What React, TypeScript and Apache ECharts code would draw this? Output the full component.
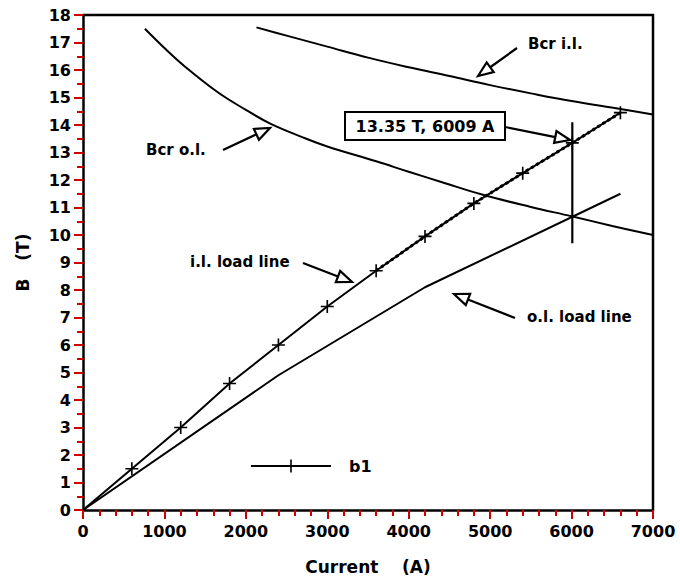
import React, { useEffect, useRef } from "react";
import * as echarts from "echarts";

// Inner-layer (i.l.) load line, with "+" markers
const ilCurrent = [0, 600, 1200, 1800, 2400, 3000, 3600, 4200, 4800, 5400, 6009, 6600];
const ilB = [0, 1.5, 3.0, 4.6, 6.0, 7.4, 8.7, 9.95, 11.15, 12.25, 13.35, 14.45];

// Outer-layer (o.l.) load line
const olCurrent = [0, 2400, 4200, 6600];
const olB = [0, 4.9, 8.1, 11.5];

// Critical field, outer layer
const bcrOlCurrent = [760, 1000, 1250, 1660, 2000, 2300, 2700, 3000, 3600, 4000, 4400, 4900, 5500, 6000, 6500, 7000];
const bcrOlB = [17.5, 16.8, 16.13, 15.18, 14.55, 14.05, 13.55, 13.22, 12.68, 12.3, 11.93, 11.47, 11.02, 10.68, 10.33, 10.0];

// Critical field, inner layer
const bcrIlCurrent = [2130, 2500, 3000, 3500, 4000, 4500, 5000, 5500, 6000, 6600, 7000];
const bcrIlB = [17.55, 17.25, 16.85, 16.45, 16.1, 15.78, 15.45, 15.15, 14.87, 14.58, 14.38];

// Operating point cross (vertical bar)
const opCurrent = [6009, 6009];
const opB = [9.7, 14.1];

const xTicks = [0, 1000, 2000, 3000, 4000, 5000, 6000, 7000];
const yTicks = [0, 1, 2, 3, 4, 5, 6, 7, 8, 9, 10, 11, 12, 13, 14, 15, 16, 17, 18];
const xMinorSplit = 5;
const yMinorSplit = 2;

const FONT = "'DejaVu Sans', Verdana, sans-serif";
const TICK_COLOR = "#d00000";
const PLUS =
  "path://M-1,-8 L1,-8 L1,-1 L8,-1 L8,1 L1,1 L1,8 L-1,8 L-1,1 L-8,1 L-8,-1 L-1,-1 Z";

function zip(xs: number[], ys: number[]) {
  return xs.map((x, i) => [x, ys[i]]);
}

function arrow(x1: number, y1: number, x2: number, y2: number) {
  const dx = x2 - x1;
  const dy = y2 - y1;
  const len = Math.sqrt(dx * dx + dy * dy);
  const ux = dx / len;
  const uy = dy / len;
  const hl = 15;
  const hw = 6;
  const bx = x2 - ux * hl;
  const by = y2 - uy * hl;
  const px = -uy;
  const py = ux;
  return [
    {
      type: "line",
      shape: { x1, y1, x2: bx, y2: by },
      style: { stroke: "#000", lineWidth: 2.2 },
      z: 10,
    },
    {
      type: "polygon",
      shape: {
        points: [
          [x2, y2],
          [bx + px * hw, by + py * hw],
          [bx - px * hw, by - py * hw],
        ],
      },
      style: { stroke: "#000", fill: "#fff", lineWidth: 2.2, lineJoin: "miter" },
      z: 10,
    },
  ];
}

function label(text: string, x: number, y: number) {
  return {
    type: "text",
    x,
    y,
    z: 10,
    style: {
      text,
      fill: "#000",
      font: `bold 15px ${FONT}`,
      textVerticalAlign: "middle",
      textAlign: "left",
    },
  };
}

const tickLabel = {
  fontFamily: FONT,
  fontSize: 16,
  fontWeight: "bold",
  color: "#000",
};

export default function App() {
  const ref = useRef<HTMLDivElement>(null);

  useEffect(() => {
    if (!ref.current) return;
    const chart = echarts.init(ref.current, null, { renderer: "svg", width: 680, height: 586 });

    const ilData = zip(ilCurrent, ilB).map((p, i) =>
      i === 0 ? { value: p, symbol: "none" } : { value: p }
    );
    const dotted = zip(ilCurrent, ilB).slice(6);

    const xMin = xTicks[0];
    const xMax = xTicks[xTicks.length - 1];
    const yMin = yTicks[0];
    const yMax = yTicks[yTicks.length - 1];

    const option: any = {
      animation: false,
      textStyle: { fontFamily: FONT },
      grid: { left: 83, right: 27, top: 15, bottom: 76 },
      legend: {
        data: ["b1"],
        left: 250,
        top: 458,
        padding: 0,
        itemWidth: 80,
        itemHeight: 16,
        textStyle: {
          fontFamily: FONT,
          fontSize: 16,
          fontWeight: "bold",
          color: "#000",
          padding: [0, 0, 0, 13],
        },
      },
      xAxis: {
        type: "value",
        min: xMin,
        max: xMax,
        interval: xTicks[1] - xTicks[0],
        name: "Current    (A)",
        nameLocation: "middle",
        nameGap: 48,
        nameTextStyle: { fontFamily: FONT, fontSize: 17, fontWeight: "bold", color: "#000" },
        axisLine: { show: true, lineStyle: { color: "#000", width: 2.5 } },
        axisTick: { show: true, length: 9, lineStyle: { color: TICK_COLOR, width: 2 } },
        minorTick: {
          show: true,
          splitNumber: xMinorSplit,
          length: 6,
          lineStyle: { color: TICK_COLOR, width: 2 },
        },
        splitLine: { show: false },
        axisLabel: { ...tickLabel, margin: 13, formatter: (v: number) => String(v) },
      },
      yAxis: {
        type: "value",
        min: yMin,
        max: yMax,
        interval: yTicks[1] - yTicks[0],
        name: "B   (T)",
        nameLocation: "middle",
        nameGap: 52,
        nameTextStyle: { fontFamily: FONT, fontSize: 17, fontWeight: "bold", color: "#000" },
        axisLine: { show: true, lineStyle: { color: "#000", width: 2.5 } },
        axisTick: { show: true, length: 9, lineStyle: { color: TICK_COLOR, width: 2 } },
        minorTick: {
          show: true,
          splitNumber: yMinorSplit,
          length: 6,
          lineStyle: { color: TICK_COLOR, width: 2 },
        },
        splitLine: { show: false },
        axisLabel: { ...tickLabel, margin: 12 },
      },
      series: [
        {
          name: "b1",
          type: "line",
          data: ilData,
          symbol: PLUS,
          symbolSize: 13,
          itemStyle: { color: "#000" },
          lineStyle: { color: "#000", width: 2 },
          z: 5,
        },
        {
          name: "il-dotted",
          type: "line",
          data: dotted,
          symbol: "none",
          lineStyle: { color: "#000", width: 3, type: "dotted" },
          z: 4,
        },
        {
          name: "o.l. load line",
          type: "line",
          data: zip(olCurrent, olB),
          symbol: "none",
          lineStyle: { color: "#000", width: 2 },
        },
        {
          name: "Bcr o.l.",
          type: "line",
          data: zip(bcrOlCurrent, bcrOlB),
          symbol: "none",
          smooth: 0.4,
          lineStyle: { color: "#000", width: 2 },
        },
        {
          name: "Bcr i.l.",
          type: "line",
          data: zip(bcrIlCurrent, bcrIlB),
          symbol: "none",
          smooth: 0.4,
          lineStyle: { color: "#000", width: 2 },
        },
        {
          name: "operating point",
          type: "line",
          data: zip(opCurrent, opB),
          symbol: "none",
          lineStyle: { color: "#000", width: 2.2 },
        },
      ],
    };

    chart.setOption(option);

    const tl = chart.convertToPixel({ gridIndex: 0 }, [xMin, yMax]) as number[];
    const tr = chart.convertToPixel({ gridIndex: 0 }, [xMax, yMax]) as number[];
    const br = chart.convertToPixel({ gridIndex: 0 }, [xMax, yMin]) as number[];
    const frame: any[] = [
      {
        type: "polyline",
        shape: { points: [tl, tr, br] },
        style: { stroke: "#000", lineWidth: 2.5, fill: null },
        z: 6,
      },
    ];

    const annotations: any[] = [
      label("Bcr i.l.", 528, 44),
      ...arrow(517, 48, 478, 76),
      label("Bcr o.l.", 146, 150),
      ...arrow(223, 150, 270, 128),
      label("i.l. load line", 190, 262),
      ...arrow(303, 263, 352, 282),
      label("o.l. load line", 527, 317),
      ...arrow(515, 318, 454, 294),
      {
        type: "rect",
        shape: { x: 345, y: 112, width: 160, height: 28 },
        style: { stroke: "#000", fill: "#fff", lineWidth: 2 },
        z: 10,
      },
      {
        type: "text",
        x: 425,
        y: 126,
        z: 11,
        style: {
          text: "13.35 T, 6009 A",
          fill: "#000",
          font: `bold 16px ${FONT}`,
          textAlign: "center",
          textVerticalAlign: "middle",
        },
      },
      ...arrow(505, 127, 570, 140),
    ];

    chart.setOption({ graphic: [...frame, ...annotations] });
    return () => chart.dispose();
  }, []);

  return (
    <div
      ref={ref}
      style={{ position: "fixed", left: 0, top: 0, width: 680, height: 586, background: "#fff" }}
    />
  );
}
